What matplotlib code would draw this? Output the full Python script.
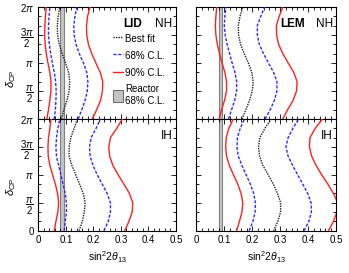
import numpy as np
import matplotlib
matplotlib.use("Agg")
from matplotlib import pyplot as plt
from matplotlib.lines import Line2D
from matplotlib.patches import Patch
from matplotlib.ticker import MultipleLocator

plt.rcParams['font.family'] = ['Liberation Sans', 'DejaVu Sans']
plt.rcParams['mathtext.fontset'] = 'custom'
plt.rcParams['mathtext.rm'] = 'Liberation Sans'
plt.rcParams['mathtext.it'] = 'Liberation Sans:italic'
plt.rcParams['mathtext.bf'] = 'Liberation Sans:bold'

# delta_CP grid, every pi/6 from 0 to 2pi
delta = np.arange(13) * np.pi / 6

# sin^2 2theta13 (per delta point)
# LID, normal hierarchy
lid_nh_90_lo = [0.031, 0.037, 0.042, 0.046, 0.046, 0.042, 0.035, 0.029, 0.025, 0.023, 0.024, 0.026, 0.029]
lid_nh_68_lo = [0.058, 0.062, 0.064, 0.065, 0.063, 0.058, 0.051, 0.045, 0.040, 0.037, 0.037, 0.039, 0.042]
lid_nh_best  = [0.084, 0.093, 0.104, 0.112, 0.114, 0.110, 0.099, 0.087, 0.076, 0.070, 0.069, 0.072, 0.078]
lid_nh_68_hi = [0.145, 0.158, 0.170, 0.178, 0.180, 0.176, 0.164, 0.149, 0.137, 0.130, 0.129, 0.133, 0.140]
lid_nh_90_hi = [0.196, 0.212, 0.226, 0.233, 0.234, 0.225, 0.209, 0.194, 0.182, 0.176, 0.175, 0.179, 0.188]
# LEM, normal hierarchy
lem_nh_90_lo = [0.082, 0.090, 0.101, 0.108, 0.108, 0.102, 0.092, 0.083, 0.075, 0.070, 0.068, 0.070, 0.073]
lem_nh_68_lo = [0.115, 0.126, 0.137, 0.144, 0.144, 0.138, 0.128, 0.119, 0.110, 0.103, 0.100, 0.102, 0.106]
lem_nh_best  = [0.163, 0.177, 0.190, 0.200, 0.203, 0.198, 0.186, 0.171, 0.158, 0.151, 0.150, 0.156, 0.166]
lem_nh_68_hi = [0.246, 0.264, 0.279, 0.288, 0.288, 0.276, 0.258, 0.240, 0.225, 0.218, 0.218, 0.230, 0.244]
lem_nh_90_hi = [0.309, 0.326, 0.346, 0.358, 0.360, 0.348, 0.328, 0.309, 0.294, 0.287, 0.286, 0.296, 0.309]
# LID, inverted hierarchy
lid_ih_90_lo = [0.058, 0.064, 0.071, 0.074, 0.070, 0.062, 0.052, 0.042, 0.036, 0.035, 0.037, 0.042, 0.046]
lid_ih_68_lo = [0.094, 0.098, 0.102, 0.102, 0.098, 0.090, 0.082, 0.074, 0.066, 0.064, 0.066, 0.071, 0.078]
lid_ih_best  = [0.148, 0.160, 0.167, 0.170, 0.163, 0.150, 0.136, 0.122, 0.112, 0.112, 0.118, 0.130, 0.142]
lid_ih_68_hi = [0.238, 0.254, 0.262, 0.262, 0.250, 0.232, 0.214, 0.199, 0.188, 0.186, 0.192, 0.210, 0.225]
lid_ih_90_hi = [0.314, 0.329, 0.341, 0.343, 0.331, 0.311, 0.290, 0.271, 0.259, 0.256, 0.262, 0.285, 0.305]
# LEM, inverted hierarchy
lem_ih_90_lo = [0.144, 0.154, 0.163, 0.166, 0.160, 0.148, 0.133, 0.118, 0.108, 0.105, 0.107, 0.116, 0.132]
lem_ih_68_lo = [0.189, 0.202, 0.210, 0.211, 0.205, 0.193, 0.178, 0.163, 0.150, 0.145, 0.147, 0.157, 0.172]
lem_ih_best  = [0.276, 0.291, 0.301, 0.301, 0.290, 0.275, 0.257, 0.238, 0.226, 0.222, 0.227, 0.245, 0.268]
lem_ih_68_hi = [0.385, 0.402, 0.411, 0.410, 0.398, 0.380, 0.362, 0.344, 0.328, 0.320, 0.328, 0.345, 0.365]
lem_ih_90_hi = [0.472, 0.490, 0.502, 0.505, 0.490, 0.470, 0.448, 0.428, 0.412, 0.404, 0.406, 0.425, 0.450]

# reactor 68% C.L. band
reactor_lo = 0.080
reactor_hi = 0.093

panels = [
    ('LID', 'NH', [lid_nh_90_lo, lid_nh_68_lo, lid_nh_best, lid_nh_68_hi, lid_nh_90_hi]),
    ('LEM', 'NH', [lem_nh_90_lo, lem_nh_68_lo, lem_nh_best, lem_nh_68_hi, lem_nh_90_hi]),
    ('LID', 'IH', [lid_ih_90_lo, lid_ih_68_lo, lid_ih_best, lid_ih_68_hi, lid_ih_90_hi]),
    ('LEM', 'IH', [lem_ih_90_lo, lem_ih_68_lo, lem_ih_best, lem_ih_68_hi, lem_ih_90_hi]),
]

red = '#ff2020'
blue = '#2a2aff'
styles = [
    dict(color=red, lw=1.0, ls='-'),
    dict(color=blue, lw=1.0, ls=(0, (2.2, 1.2))),
    dict(color='#202020', lw=1.0, ls=(0, (1, 0.8))),
    dict(color=blue, lw=1.0, ls=(0, (2.2, 1.2))),
    dict(color=red, lw=1.0, ls='-'),
]

fig = plt.figure(figsize=(3.49, 2.73), dpi=100)
W, H = 349.0, 273.0
col_x = [(38.3, 137.7), (196.3, 140.0)]
row_y = [(7.0, 112.0), (119.0, 111.7)]

fs = 7
for i, (det, hier, curves) in enumerate(panels):
    r, c = divmod(i, 2)
    x0, w = col_x[c]
    y0, h = row_y[r]
    ax = fig.add_axes([x0 / W, 1 - (y0 + h) / H, w / W, h / H])

    ax.axvspan(reactor_lo, reactor_hi, color='#c4c4c4', lw=0, zorder=1)
    ax.axvline(reactor_lo, color='#808080', lw=0.8, zorder=1)
    ax.axvline(reactor_hi, color='#808080', lw=0.8, zorder=1)
    for vals, st in zip(curves, styles):
        ax.plot(vals, delta, zorder=3, **st)

    ax.set_xlim(0, 0.5)
    ax.set_ylim(0, 2 * np.pi)
    ax.xaxis.set_major_locator(MultipleLocator(0.1))
    ax.xaxis.set_minor_locator(MultipleLocator(0.02))
    ax.yaxis.set_minor_locator(MultipleLocator(np.pi / 6))
    if r == 0:
        yt = [np.pi / 2, np.pi, 3 * np.pi / 2, 2 * np.pi]
        yl = [r'$\dfrac{\pi}{2}$', r'$\pi$', r'$\dfrac{3\pi}{2}$', r'$2\pi$']
    else:
        yt = [0, np.pi / 2, np.pi, 3 * np.pi / 2, 2 * np.pi]
        yl = ['0', r'$\dfrac{\pi}{2}$', r'$\pi$', r'$\dfrac{3\pi}{2}$', r'$2\pi$']
    ax.set_yticks(yt)
    if c == 0:
        ax.set_yticklabels(yl)
        ax.set_ylabel(r'$\delta_{\rm CP}$', fontsize=fs + 1)
        ax.yaxis.set_label_coords(-0.15, 0.36 if r == 0 else 0.39)
    else:
        ax.set_yticklabels([])
    ax.set_xticks([0, 0.1, 0.2, 0.3, 0.4, 0.5])
    if r == 1:
        ax.set_xticklabels(['0', '0.1', '0.2', '0.3', '0.4', '0.5'])
        ax.set_xlabel(r'sin$^2$2$\theta_{13}$', fontsize=fs + 0.5, labelpad=3)
    else:
        ax.set_xticklabels([])

    ax.tick_params(which='both', direction='in', top=True, right=True,
                   labelsize=fs, width=0.6)
    ax.tick_params(which='major', length=3.5, pad=3)
    ax.tick_params(which='minor', length=2)
    for s in ax.spines.values():
        s.set_linewidth(0.8)

    if r == 0:
        ax.text(0.615 if c == 0 else 0.6, 0.85, det, transform=ax.transAxes,
                fontsize=fs + 1.5, fontweight='bold', va='center', ha='left')
    ax.text(0.975, 0.85, hier, transform=ax.transAxes,
            fontsize=fs + 1.5, va='center', ha='right')

    if i == 0:
        handles = [
            Line2D([], [], **styles[2]),
            Line2D([], [], **styles[1]),
            Line2D([], [], **styles[0]),
            Patch(facecolor='#c4c4c4', edgecolor='#707070', lw=0.8),
        ]
        labels = ['Best fit', '68% C.L.', '90% C.L.', 'Reactor\n68% C.L.']
        ax.legend(handles, labels, loc='upper left', bbox_to_anchor=(0.545, 0.775),
                  frameon=False, fontsize=fs, handlelength=1.0, handletextpad=0.25,
                  handleheight=1.6, labelspacing=0.5, borderpad=0, borderaxespad=0)

fig.savefig('out.png', dpi=100)
